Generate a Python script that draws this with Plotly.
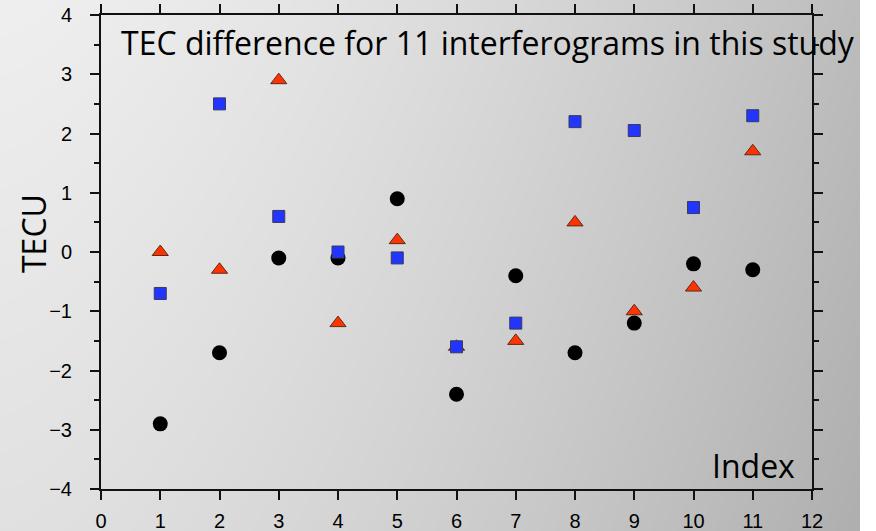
import base64
import struct
import zlib

import numpy as np
import plotly.graph_objects as go

index = [1, 2, 3, 4, 5, 6, 7, 8, 9, 10, 11]
black_vals = [-2.9, -1.7, -0.1, -0.1, 0.9, -2.4, -0.4, -1.7, -1.2, -0.2, -0.3]
blue_vals = [-0.7, 2.5, 0.6, 0.0, -0.1, -1.6, -1.2, 2.2, 2.05, 0.75, 2.3]
red_vals = [0.0, -0.3, 2.9, -1.2, 0.2, -1.6, -1.5, 0.5, -1.0, -0.6, 1.7]

W, H = 876, 531
L, R, T, B = 101, 64, 15, 42
pw, ph = W - L - R, H - T - B


def px_to_paper_x(px):
    return (px - L) / pw


def px_to_paper_y(py):
    return (H - B - py) / ph


# ---- gradient background image (style only) ----
BG_W = 860
gw, gh = 430, 266
xs = np.linspace(0, 1, gw)[None, :]
ys = np.linspace(0, 1, gh)[:, None]
gray = 239 - 50 * xs ** 1.5 - 14 * ys
gray = np.clip(gray, 0, 255).astype(np.uint8)


def make_png(arr):
    h, w = arr.shape
    raw = b"".join(b"\x00" + arr[r].tobytes() for r in range(h))

    def chunk(tag, data):
        return (struct.pack(">I", len(data)) + tag + data +
                struct.pack(">I", zlib.crc32(tag + data) & 0xFFFFFFFF))

    return (b"\x89PNG\r\n\x1a\n" +
            chunk(b"IHDR", struct.pack(">IIBBBBB", w, h, 8, 0, 0, 0, 0)) +
            chunk(b"IDAT", zlib.compress(raw, 9)) +
            chunk(b"IEND", b""))


bg_uri = "data:image/png;base64," + base64.b64encode(make_png(gray)).decode()

fig = go.Figure()
fig.add_trace(go.Scatter(x=index, y=red_vals, mode="markers",
    marker=dict(symbol="triangle-up", size=14, color="#ff3300",
                line=dict(color="#5a2a1a", width=1)), showlegend=False))
fig.add_trace(go.Scatter(x=index, y=black_vals, mode="markers",
    marker=dict(symbol="circle", size=15, color="#000000",
                line=dict(width=0)), showlegend=False))
fig.add_trace(go.Scatter(x=index, y=blue_vals, mode="markers",
    marker=dict(symbol="square", size=12, color="#2235ff",
                line=dict(color="#3a3a5a", width=1)), showlegend=False))

tick_font = dict(family="Liberation Sans", size=20, color="black")

fig.update_layout(
    template="none",
    width=W, height=H,
    margin=dict(l=L, r=R, t=T, b=B, autoexpand=False),
    paper_bgcolor="white",
    plot_bgcolor="rgba(0,0,0,0)",
    images=[dict(source=bg_uri, xref="paper", yref="paper",
                 x=px_to_paper_x(0), y=px_to_paper_y(0),
                 sizex=BG_W / pw, sizey=H / ph, sizing="stretch",
                 xanchor="left", yanchor="top", layer="below")],
    font=dict(family="Liberation Sans", size=20, color="black"),
    xaxis=dict(range=[0, 12], dtick=1, tick0=0, showgrid=False, zeroline=False,
               automargin=False, tickfont=tick_font,
               showline=True, linecolor="#111", linewidth=2, mirror="ticks",
               ticks="outside", ticklen=9, tickwidth=1.5, tickcolor="#111",
               ticklabelstandoff=4),
    yaxis=dict(range=[-4, 4], dtick=1, tick0=0, showgrid=False, zeroline=False,
               automargin=False, tickfont=tick_font,
               showline=True, linecolor="#111", linewidth=2, mirror="ticks",
               ticks="outside", ticklen=9, tickwidth=1.5, tickcolor="#111",
               minor=dict(dtick=0.5, ticks="outside", ticklen=5, tickcolor="#111",
                          tickwidth=1.5, showgrid=False),
               ticklabelstandoff=14),
    annotations=[
        dict(text="TEC difference for 11 interferograms in this study",
             xref="paper", yref="paper", x=px_to_paper_x(119), y=px_to_paper_y(43),
             xanchor="left", yanchor="middle", showarrow=False,
             font=dict(family="Open Sans", size=32, color="black")),
        dict(text="Index", xref="paper", yref="paper",
             x=px_to_paper_x(797), y=px_to_paper_y(465),
             xanchor="right", yanchor="middle", showarrow=False,
             font=dict(family="Open Sans", size=32, color="black")),
        dict(text="TECU", xref="paper", yref="paper",
             x=px_to_paper_x(33), y=px_to_paper_y(234),
             xanchor="center", yanchor="middle", showarrow=False, textangle=-90,
             font=dict(family="Open Sans", size=32, color="black")),
    ],
)

fig.write_html("out.html", config={"displayModeBar": False},
               post_script="document.body.style.margin='0px';document.body.style.padding='0px';")
